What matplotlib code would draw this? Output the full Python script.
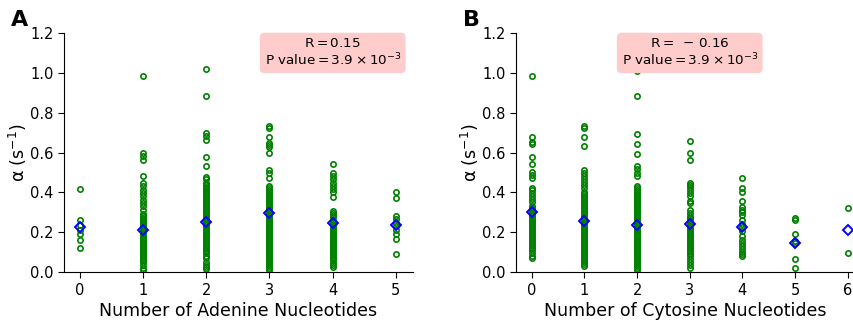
import numpy as np
import matplotlib.pyplot as plt

# alpha values per number of adenine nucleotides (panel A)
adenine = {
    0: [0.415, 0.26, 0.235, 0.21, 0.19, 0.16, 0.12],
    1: [0.985, 0.60, 0.585, 0.565, 0.48, 0.445, 0.43, 0.41, 0.395, 0.38, 0.36,
        0.345, 0.33, 0.31, 0.29, 0.28, 0.27, 0.26, 0.25, 0.24, 0.23, 0.22, 0.21,
        0.20, 0.19, 0.18, 0.17, 0.16, 0.15, 0.14, 0.13, 0.12, 0.11, 0.10, 0.09,
        0.08, 0.07, 0.06, 0.05, 0.035, 0.02, 0.01],
    2: [1.02, 0.885, 0.70, 0.685, 0.665, 0.58, 0.53, 0.475, 0.465, 0.445, 0.435,
        0.425, 0.415, 0.405, 0.395, 0.385, 0.375, 0.365, 0.355, 0.345, 0.335,
        0.325, 0.315, 0.305, 0.295, 0.285, 0.275, 0.265, 0.255, 0.245, 0.235,
        0.225, 0.215, 0.205, 0.195, 0.185, 0.175, 0.165, 0.155, 0.145, 0.135,
        0.125, 0.115, 0.105, 0.095, 0.08, 0.07, 0.05, 0.035, 0.025, 0.015],
    3: [1.02, 0.735, 0.725, 0.68, 0.65, 0.64, 0.63, 0.60, 0.51, 0.495, 0.47,
        0.43, 0.42, 0.41, 0.40, 0.39, 0.38, 0.37, 0.36, 0.35, 0.34, 0.33, 0.32,
        0.31, 0.30, 0.29, 0.28, 0.27, 0.26, 0.25, 0.24, 0.23, 0.22, 0.21, 0.20,
        0.19, 0.18, 0.17, 0.16, 0.15, 0.14, 0.13, 0.12, 0.11, 0.10, 0.09, 0.08,
        0.07, 0.06, 0.05, 0.04, 0.03, 0.02, 0.01],
    4: [0.545, 0.495, 0.48, 0.465, 0.445, 0.43, 0.415, 0.40, 0.375, 0.305, 0.295,
        0.285, 0.275, 0.26, 0.25, 0.24, 0.23, 0.22, 0.21, 0.20, 0.19, 0.18, 0.17,
        0.16, 0.15, 0.14, 0.13, 0.12, 0.11, 0.10, 0.09, 0.08, 0.07, 0.06, 0.045,
        0.035, 0.028],
    5: [0.40, 0.37, 0.28, 0.265, 0.245, 0.23, 0.21, 0.19, 0.165, 0.09],
}
adenine_mean = [0.224, 0.209, 0.251, 0.295, 0.244, 0.234]

# alpha values per number of cytosine nucleotides (panel B)
cytosine = {
    0: [0.985, 0.68, 0.655, 0.645, 0.58, 0.545, 0.50, 0.485, 0.47, 0.42, 0.41,
        0.395, 0.38, 0.365, 0.35, 0.33, 0.32, 0.31, 0.30, 0.29, 0.28, 0.27, 0.26,
        0.25, 0.24, 0.23, 0.22, 0.21, 0.20, 0.19, 0.18, 0.17, 0.16, 0.15, 0.14,
        0.13, 0.12, 0.11, 0.095, 0.08, 0.07],
    1: [0.735, 0.725, 0.68, 0.635, 0.51, 0.495, 0.48, 0.465, 0.45, 0.435, 0.42,
        0.40, 0.39, 0.38, 0.37, 0.36, 0.35, 0.34, 0.33, 0.32, 0.31, 0.30, 0.29,
        0.28, 0.27, 0.26, 0.25, 0.24, 0.23, 0.22, 0.21, 0.20, 0.19, 0.18, 0.17,
        0.16, 0.15, 0.14, 0.13, 0.12, 0.11, 0.10, 0.09, 0.08, 0.07, 0.06, 0.05,
        0.04, 0.03],
    2: [1.01, 0.885, 0.695, 0.645, 0.595, 0.53, 0.515, 0.495, 0.48, 0.43, 0.42,
        0.41, 0.40, 0.39, 0.38, 0.37, 0.36, 0.35, 0.34, 0.33, 0.32, 0.31, 0.30,
        0.29, 0.28, 0.27, 0.26, 0.25, 0.24, 0.23, 0.22, 0.21, 0.20, 0.19, 0.18,
        0.17, 0.16, 0.15, 0.14, 0.13, 0.12, 0.11, 0.10, 0.09, 0.08, 0.07, 0.06,
        0.05, 0.04, 0.03, 0.02, 0.01],
    3: [0.66, 0.60, 0.565, 0.445, 0.435, 0.425, 0.41, 0.395, 0.38, 0.355, 0.345,
        0.31, 0.295, 0.28, 0.27, 0.26, 0.25, 0.24, 0.23, 0.22, 0.21, 0.20, 0.19,
        0.18, 0.17, 0.16, 0.15, 0.14, 0.13, 0.12, 0.11, 0.10, 0.09, 0.08, 0.065,
        0.05, 0.035, 0.02],
    4: [0.47, 0.42, 0.40, 0.355, 0.325, 0.31, 0.30, 0.285, 0.26, 0.24, 0.225,
        0.205, 0.18, 0.16, 0.145, 0.13, 0.115, 0.10, 0.09, 0.08],
    5: [0.27, 0.262, 0.19, 0.155, 0.145, 0.065, 0.02],
    6: [0.323, 0.097],
}
cytosine_mean = [0.30, 0.254, 0.238, 0.241, 0.228, 0.147, 0.211]

stats_a = r'$\mathrm{R = 0.15}$' + '\n' + r'$\mathrm{P\ value = 3.9 \times 10^{-3}}$'
stats_b = r'$\mathrm{R = \;-\, 0.16}$' + '\n' + r'$\mathrm{P\ value = 3.9 \times 10^{-3}}$'

fig = plt.figure(figsize=(8.54, 3.22), dpi=100)
ax_a = fig.add_axes([0.0749, 0.155, 0.4087, 0.7425])
ax_b = fig.add_axes([0.6042, 0.155, 0.3958, 0.7425])


def draw(ax, groups, means, xlabel, stats, stats_x, xlim):
    for n, vals in groups.items():
        ax.plot([n] * len(vals), vals, 'o', ms=3.8, mew=1.2, mfc='none',
                mec='green', zorder=2)
    ax.plot(list(groups.keys()), means, 'D', ms=5.5, mew=1.4, mfc='none',
            mec='blue', zorder=3)
    ax.set_xlim(*xlim)
    ax.set_ylim(0, 1.2)
    ax.set_xticks(list(groups.keys()))
    ax.set_yticks([0.0, 0.2, 0.4, 0.6, 0.8, 1.0, 1.2])
    ax.tick_params(labelsize=10.5, length=4)
    ax.spines['top'].set_visible(False)
    ax.spines['right'].set_visible(False)
    ax.set_xlabel(xlabel, fontsize=12.5, labelpad=3)
    ax.set_ylabel('α (s$^{-1}$)', fontsize=12.5, labelpad=1)
    ax.text(stats_x, 1.1, stats, ha='center', va='center', fontsize=9.7,
            zorder=5, linespacing=1.1,
            bbox=dict(boxstyle='round,pad=0.35', fc='#ffcccc', ec='none'))


draw(ax_a, adenine, adenine_mean, 'Number of Adenine Nucleotides', stats_a, 4.0,
     (-0.25, 5.27))
draw(ax_b, cytosine, cytosine_mean, 'Number of Cytosine Nucleotides', stats_b, 3.0,
     (-0.30, 6.12))

fig.text(0.013, 0.918, 'A', fontsize=16, fontweight='bold')
fig.text(0.542, 0.918, 'B', fontsize=16, fontweight='bold')

fig.savefig('out.png', dpi=100)
